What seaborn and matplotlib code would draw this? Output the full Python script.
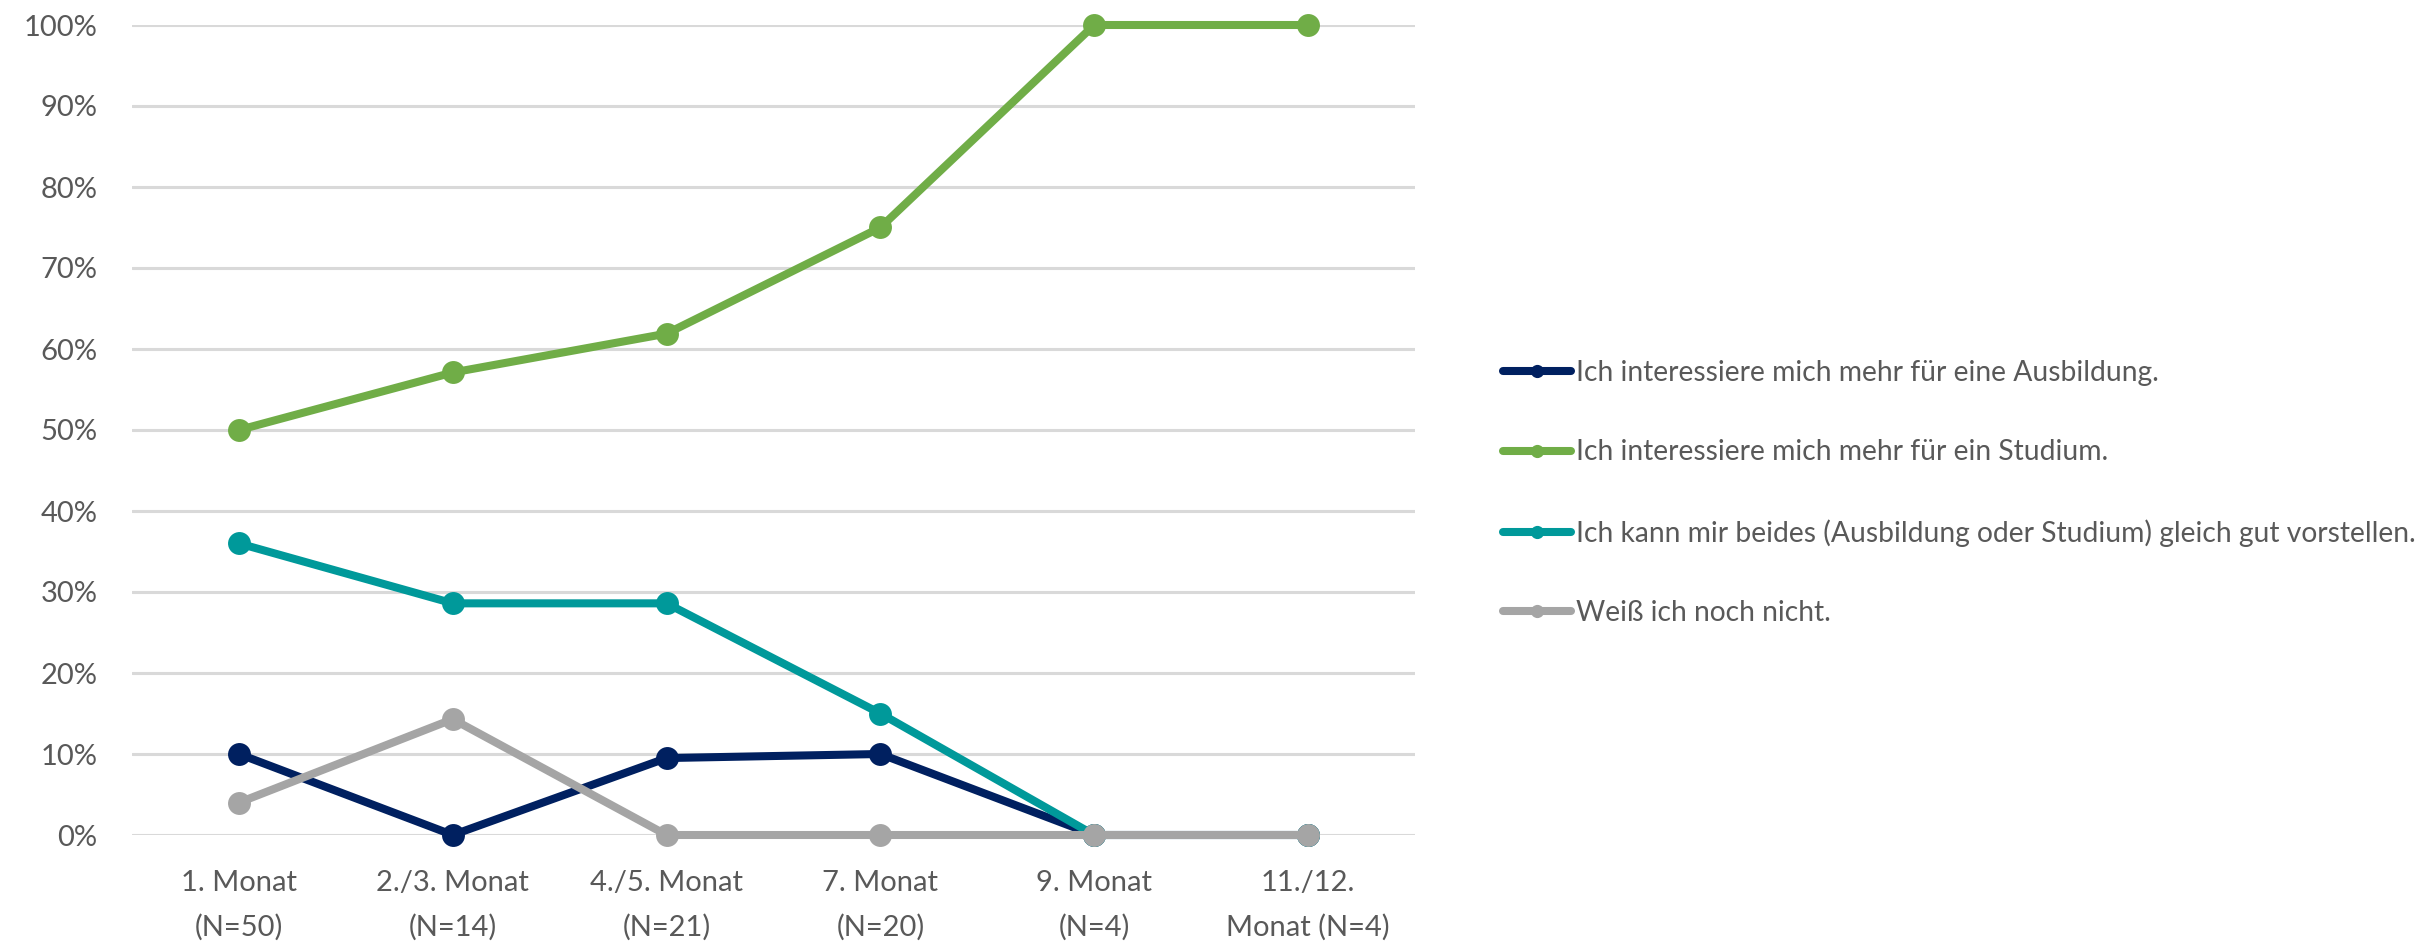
import matplotlib
matplotlib.use("Agg")
import matplotlib.pyplot as plt
from matplotlib.lines import Line2D
from matplotlib.ticker import PercentFormatter, MultipleLocator
import seaborn as sns
import pandas as pd

# Survey waves (x axis categories)
monate = [
    "1. Monat\n(N=50)",
    "2./3. Monat\n(N=14)",
    "4./5. Monat\n(N=21)",
    "7. Monat\n(N=20)",
    "9. Monat\n(N=4)",
    "11./12.\nMonat (N=4)",
]

# Answer options
antworten = [
    "Ich interessiere mich mehr für eine Ausbildung.",
    "Ich interessiere mich mehr für ein Studium.",
    "Ich kann mir beides (Ausbildung oder Studium) gleich gut vorstellen.",
    "Weiß ich noch nicht.",
]

# Shares per wave (fractions)
ausbildung = [0.10, 0.00, 0.095, 0.10, 0.00, 0.00]
studium = [0.50, 0.571, 0.619, 0.75, 1.00, 1.00]
beides = [0.36, 0.286, 0.286, 0.15, 0.00, 0.00]
weiss_nicht = [0.04, 0.143, 0.00, 0.00, 0.00, 0.00]

farben = ["#002060", "#70AD47", "#00999A", "#A5A5A5"]

reihen = [ausbildung, studium, beides, weiss_nicht]
df = pd.concat(
    [pd.DataFrame({"Monat": monate, "Anteil": werte, "Antwort": name})
     for name, werte in zip(antworten, reihen)],
    ignore_index=True,
)

sns.set_theme(style="white")
plt.rcParams["font.family"] = ["Lato", "DejaVu Sans"]
text_grau = "#595959"

fig = plt.figure(figsize=(24.2, 9.47), dpi=100)
ax = fig.add_axes([132 / 2420, 112 / 947, (1415 - 132) / 2420, 810 / 947])

sns.lineplot(
    data=df, x="Monat", y="Anteil", hue="Antwort", hue_order=antworten,
    palette=farben, sort=False, marker="o", markersize=16.5,
    markeredgewidth=0, linewidth=5.8, ax=ax, legend=False, clip_on=False,
)

ax.set_xlim(-0.5, len(monate) - 0.5)
ax.set_ylim(0, 1)
ax.yaxis.set_major_locator(MultipleLocator(0.1))
ax.yaxis.set_major_formatter(PercentFormatter(1.0, decimals=0))
ax.grid(axis="y", color="#D9D9D9", linewidth=2.2)
ax.set_axisbelow(True)
for s in ax.spines.values():
    s.set_visible(False)
ax.set_xlabel("")
ax.set_ylabel("")
ax.tick_params(axis="y", length=0, pad=25, labelsize=21, labelcolor=text_grau)
ax.tick_params(axis="x", length=0, pad=25, labelsize=21, labelcolor=text_grau)
for lab in ax.get_xticklabels():
    lab.set_linespacing(1.85)

handles = [
    Line2D([], [], color=c, linewidth=5.8, marker="o", markersize=9.5,
           markeredgewidth=0, solid_capstyle="round")
    for c in farben
]
fig.legend(
    handles, antworten, loc="center left",
    bbox_to_anchor=(1503 / 2420, 1 - 493 / 947), frameon=False,
    fontsize=20.3, labelcolor=text_grau, handlelength=2.4,
    handletextpad=0.2, labelspacing=1.9, borderaxespad=0, borderpad=0,
)

fig.savefig("out.png", dpi=100, facecolor="white")
